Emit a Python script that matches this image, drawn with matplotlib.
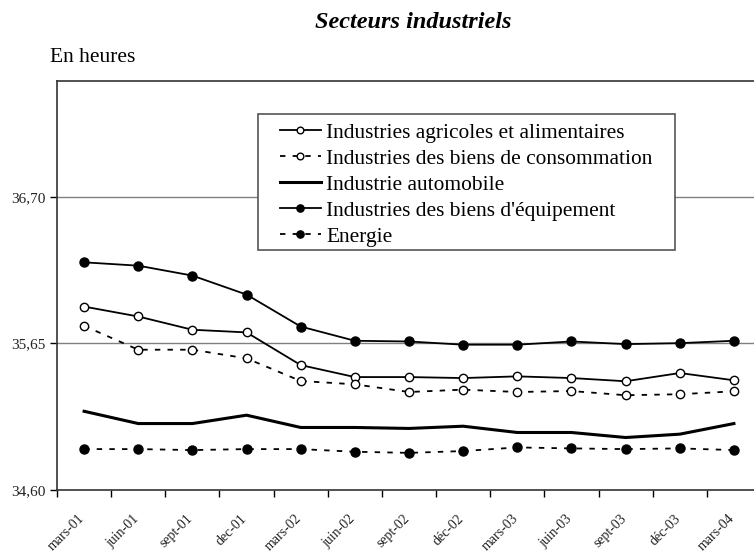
import matplotlib
matplotlib.use("Agg")
import matplotlib.pyplot as plt
import matplotlib.transforms as mtransforms
from matplotlib.patches import Rectangle
import numpy as np

# quarters
labels = ["mars-01", "juin-01", "sept-01", "dec-01", "mars-02", "juin-02", "sept-02",
          "déc-02", "mars-03", "juin-03", "sept-03", "déc-03", "mars-04"]

agricoles = [35.914, 35.843, 35.748, 35.729, 35.495, 35.409, 35.409,
             35.402, 35.414, 35.402, 35.379, 35.438, 35.386]
consommation = [35.776, 35.605, 35.605, 35.543, 35.381, 35.357, 35.302,
                35.319, 35.302, 35.309, 35.279, 35.286, 35.307]
automobile = [35.164, 35.076, 35.076, 35.136, 35.048, 35.048, 35.041,
              35.057, 35.012, 35.012, 34.976, 35.000, 35.076]
equipement = [36.231, 36.207, 36.136, 36.000, 35.771, 35.669, 35.664,
              35.641, 35.641, 35.664, 35.645, 35.652, 35.669]
energie = [34.893, 34.893, 34.886, 34.893, 34.893, 34.874, 34.866,
           34.879, 34.905, 34.898, 34.893, 34.898, 34.886]

yticks = [34.60, 35.65, 36.70]

plt.rcParams['font.family'] = ['Liberation Serif', 'DejaVu Serif']

fig = plt.figure(figsize=(7.54, 5.53), dpi=100)
ax = fig.add_axes([57/754, 1-490/553, 704/754, 409/553])

x = np.arange(len(labels))
dash = (0, (3, 4))
ax.plot(x, agricoles, color='black', lw=1.3, marker='o', ms=6, mfc='white', mec='black',
        mew=1.0, label="Industries agricoles et alimentaires")
ax.plot(x, consommation, color='black', lw=1.3, ls=dash, marker='o', ms=6, mfc='white', mec='black',
        mew=1.0, label="Industries des biens de consommation")
ax.plot(x, automobile, color='black', lw=2.2, label="Industrie automobile")
ax.plot(x, equipement, color='black', lw=1.3, marker='o', ms=6.5, mfc='black', mec='black',
        label="Industries des biens d'équipement")
ax.plot(x, energie, color='black', lw=1.3, ls=dash, marker='o', ms=6.5, mfc='black', mec='black',
        label="Energie")

ax.set_xlim(-0.5, len(labels) - 0.5)
ax.set_ylim(34.60, 37.53)

for v in yticks[1:]:
    ax.axhline(v, color='#808080', lw=1.0, zorder=0)

ax.set_yticks(yticks)
ax.set_yticklabels([("%.2f" % v).replace('.', ',') for v in yticks], fontsize=11, color='#222222')
ax.tick_params(axis='y', length=5, width=1, direction='out', pad=3)

ax.set_xticks(x)
ax.set_xticklabels(labels, rotation=45, ha='right', rotation_mode='anchor', fontsize=10, color='#222222')
ax.set_xticks(np.arange(len(labels) + 1) - 0.5, minor=True)
ax.tick_params(axis='x', which='major', length=0, pad=16)
ax.tick_params(axis='x', which='minor', length=5, width=1, direction='out')
shift = mtransforms.ScaledTranslation(-6/100, 0, fig.dpi_scale_trans)
for lab in ax.get_xticklabels():
    lab.set_transform(lab.get_transform() + shift)

for s in ax.spines.values():
    s.set_linewidth(1.2)
    s.set_color('#333333')

# legend frame drawn separately, legend itself unframed
ax.add_patch(Rectangle((258/754, 1-250/553), (675-258)/754, (250-114)/553,
                       transform=fig.transFigure, fill=True, facecolor='white',
                       edgecolor='#555555', lw=1.2, zorder=5, clip_on=False))
leg = ax.legend(loc='upper left', bbox_to_anchor=(280/754, 1-123/553), bbox_transform=fig.transFigure,
                borderaxespad=0, borderpad=0, frameon=False, fontsize=15.4, markerscale=0.8,
                handlelength=1.9, handletextpad=0.25, labelspacing=0.28)
leg.set_zorder(6)

fig.text(413/754, 1-23/553, "Secteurs industriels", ha='center', va='center',
         fontsize=17.5, fontweight='bold', style='italic')
fig.text(50/754, 1-58/553, "En heures", ha='left', va='center', fontsize=15.5)

fig.savefig("out.png", dpi=100)
